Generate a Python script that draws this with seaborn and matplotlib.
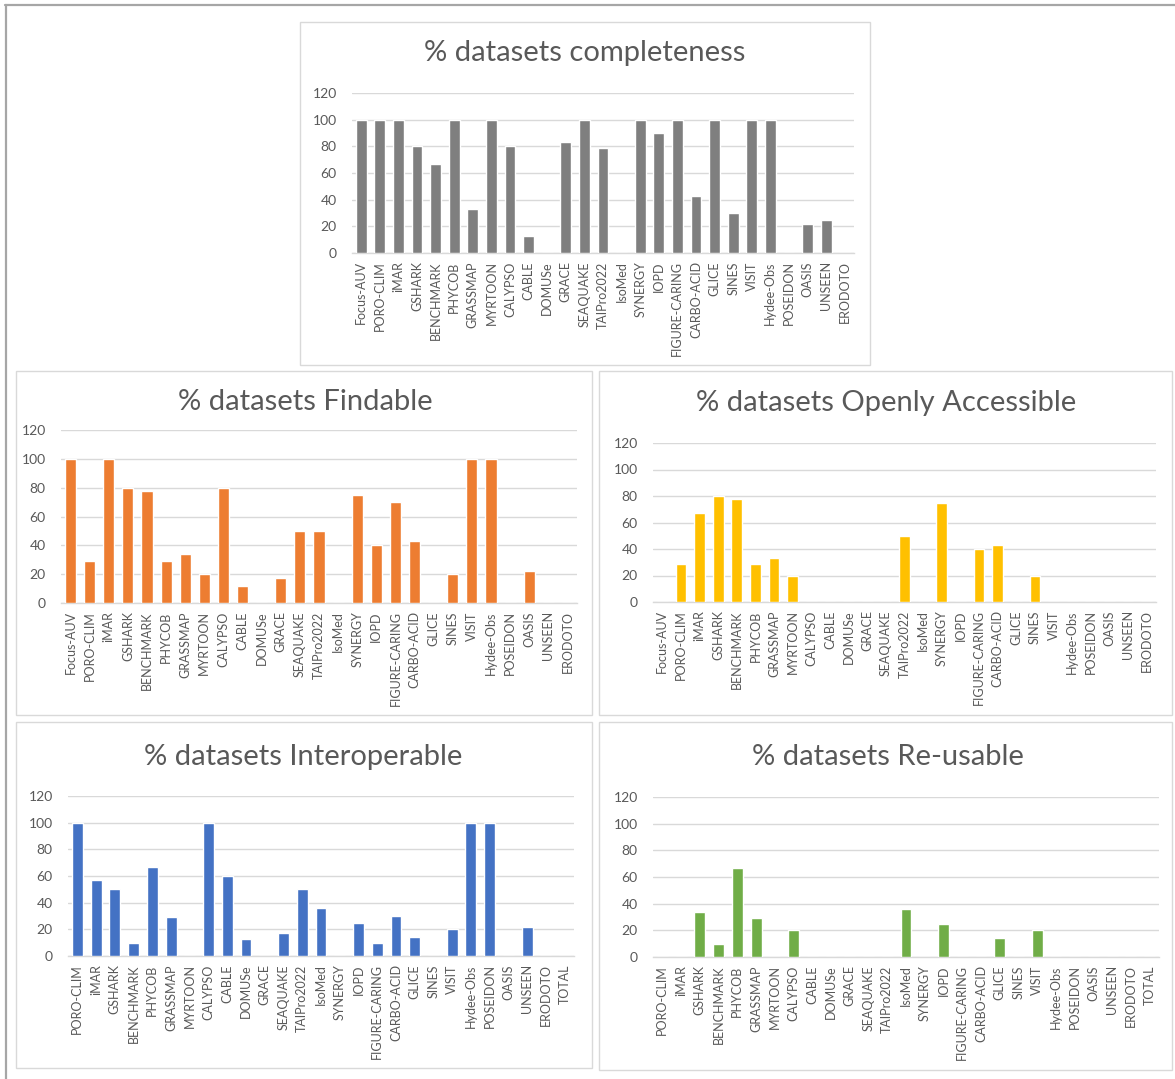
import matplotlib
matplotlib.use("Agg")
import matplotlib.pyplot as plt
import seaborn as sns
from matplotlib.patches import Rectangle
from matplotlib.lines import Line2D

sns.set_theme(style="white")
plt.rcParams['font.family'] = ['Lato', 'DejaVu Sans']

# ---------------- data ----------------
cats_top = ["Focus-AUV", "PORO-CLIM", "iMAR", "GSHARK", "BENCHMARK", "PHYCOB", "GRASSMAP",
            "MYRTOON", "CALYPSO", "CABLE", "DOMUSe", "GRACE", "SEAQUAKE", "TAIPro2022",
            "IsoMed", "SYNERGY", "IOPD", "FIGURE-CARING", "CARBO-ACID", "GLICE", "SINES",
            "VISIT", "Hydee-Obs", "POSEIDON", "OASIS", "UNSEEN", "ERODOTO"]
cats_bottom = ["PORO-CLIM", "iMAR", "GSHARK", "BENCHMARK", "PHYCOB", "GRASSMAP",
               "MYRTOON", "CALYPSO", "CABLE", "DOMUSe", "GRACE", "SEAQUAKE", "TAIPro2022",
               "IsoMed", "SYNERGY", "IOPD", "FIGURE-CARING", "CARBO-ACID", "GLICE", "SINES",
               "VISIT", "Hydee-Obs", "POSEIDON", "OASIS", "UNSEEN", "ERODOTO", "TOTAL"]

completeness = [100, 100, 100, 80, 67, 100, 33, 100, 80, 12.5, 0, 83, 100, 79, 0, 100, 90,
                100, 43, 100, 30, 100, 100, 0, 22, 25, 0]
findable = [100, 29, 100, 80, 78, 29, 34, 20, 80, 12, 0, 17, 50, 50, 0, 75, 40, 70, 43, 0,
            20, 100, 100, 0, 22, 0, 0]
accessible = [0, 29, 67, 80, 78, 29, 33, 20, 0, 0, 0, 0, 0, 50, 0, 75, 0, 40, 43, 0, 20,
              0, 0, 0, 0, 0, 0]
interoperable = [100, 57, 50, 10, 67, 29, 0, 100, 60, 12.5, 0, 17, 50, 36, 0, 25, 10, 30,
                 14, 0, 20, 100, 100, 0, 22, 0, 0]
reusable = [0, 0, 34, 10, 67, 29, 0, 20, 0, 0, 0, 0, 0, 36, 0, 25, 0, 0, 14, 0, 20, 0, 0,
            0, 0, 0, 0]

titles = ["% datasets completeness", "% datasets Findable", "% datasets Openly Accessible",
          "% datasets Interoperable", "% datasets Re-usable"]
colors = ["#7f7f7f", "#ed7d31", "#ffc000", "#4472c4", "#70ad47"]
yticks = [0, 20, 40, 60, 80, 100, 120]

# ---------------- layout ----------------
W, H = 1175, 1079
fig = plt.figure(figsize=(W / 100, H / 100), dpi=100)
fig.patch.set_facecolor("white")

TXT = "#595959"
GRID = "#d9d9d9"


def frect(x0, x1, ytop, ybot):
    return [x0 / W, 1 - ybot / H, (x1 - x0) / W, (ybot - ytop) / H]


# outer frame lines
fig.add_artist(Line2D([5 / W, 1], [1 - 5 / H, 1 - 5 / H], transform=fig.transFigure,
                      color="#a6a6a6", lw=1.6))
fig.add_artist(Line2D([6 / W, 6 / W], [0, 1 - 5 / H], transform=fig.transFigure,
                      color="#a6a6a6", lw=1.6))

boxes = [(300, 870, 22, 365), (16, 592, 371, 715), (599, 1172, 371, 715),
         (16, 592, 722, 1068), (599, 1172, 722, 1070)]
axes_px = [(352, 854, 93, 253), (61, 577, 430, 603), (653, 1156, 443, 602),
           (68, 574, 796, 956), (653, 1159, 797, 957)]
title_pos = [(585, 53), (305, 402), (886, 403), (303, 757), (888, 757)]
cat_sets = [cats_top, cats_top, cats_top, cats_bottom, cats_bottom]
series = [completeness, findable, accessible, interoperable, reusable]

for (bx0, bx1, bt, bb), (ax0, ax1, at, ab), (tx, ty), cats, vals, col, ttl in zip(
        boxes, axes_px, title_pos, cat_sets, series, colors, titles):
    fig.add_artist(Rectangle((bx0 / W, 1 - bb / H), (bx1 - bx0) / W, (bb - bt) / H,
                             transform=fig.transFigure, fill=False, edgecolor=GRID, lw=1.0))
    ax = fig.add_axes(frect(ax0, ax1, at, ab))
    sns.barplot(x=cats, y=vals, color=col, width=0.58, saturation=1, ax=ax, zorder=3)
    ax.set_xlim(-0.5, len(cats) - 0.5)
    ax.set_ylim(0, 120)
    ax.set_yticks(yticks)
    ax.yaxis.grid(True, color=GRID, lw=1.0, zorder=0)
    ax.set_axisbelow(True)
    for s in ["top", "right", "left"]:
        ax.spines[s].set_visible(False)
    ax.spines["bottom"].set_color(GRID)
    ax.spines["bottom"].set_linewidth(1.0)
    ax.tick_params(axis="y", length=0, pad=11, labelsize=10, labelcolor=TXT)
    ax.tick_params(axis="x", length=0, pad=6, labelsize=9, labelcolor=TXT)
    ax.set_xticks(range(len(cats)))
    ax.set_xticklabels(cats, rotation=90)
    ax.set_facecolor("none")
    fig.text(tx / W, 1 - ty / H, ttl, ha="center", va="center", fontsize=21, color=TXT)

fig.savefig("out.png", dpi=100, facecolor="white")
